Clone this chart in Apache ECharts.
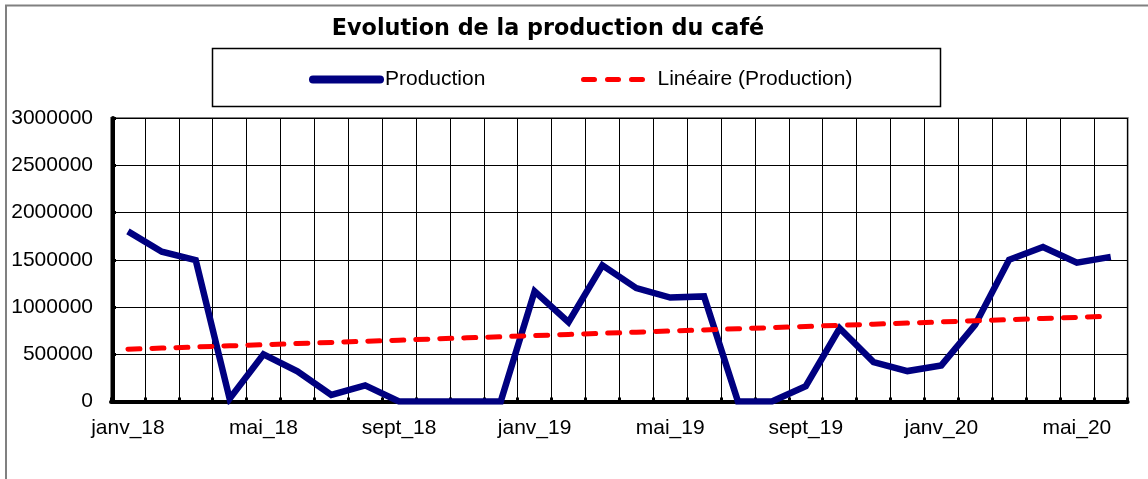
<!DOCTYPE html>
<html>
<head>
<meta charset="utf-8">
<title>Evolution de la production du café</title>
<script src="https://cdn.jsdelivr.net/npm/echarts@6/dist/echarts.min.js"></script>
<style>
  html, body { margin: 0; padding: 0; background: #fff; }
  #chart { width: 1148px; height: 479px; }
</style>
</head>
<body>
<div id="chart"></div>
<script>
// Mois de janvier 2018 à juin 2020
const months = [
  'janv_18', 'févr_18', 'mars_18', 'avr_18', 'mai_18', 'juin_18',
  'juil_18', 'août_18', 'sept_18', 'oct_18', 'nov_18', 'déc_18',
  'janv_19', 'févr_19', 'mars_19', 'avr_19', 'mai_19', 'juin_19',
  'juil_19', 'août_19', 'sept_19', 'oct_19', 'nov_19', 'déc_19',
  'janv_20', 'févr_20', 'mars_20', 'avr_20', 'mai_20', 'juin_20'
];

// Production mensuelle de café
const production = [
  1800000, 1585000, 1495000, 30000, 500000, 320000,
  70000, 170000, 0, 0, 0, 0,
  1165000, 840000, 1440000, 1200000, 1100000, 1112000,
  0, 0, 162000, 775000, 417000, 322000,
  382000, 812000, 1500000, 1635000, 1470000, 1530000
];

const yTicks = { min: 0, max: 3000000, step: 500000 };

const seriesNames = ['Production', 'Linéaire (Production)'];

// Tendance linéaire (moindres carrés) de la production
function linearTrend(values) {
  const n = values.length;
  let sx = 0, sy = 0, sxy = 0, sxx = 0;
  values.forEach((v, i) => { sx += i; sy += v; sxy += i * v; sxx += i * i; });
  const slope = (n * sxy - sx * sy) / (n * sxx - sx * sx);
  const intercept = (sy - slope * sx) / n;
  return values.map((_, i) => Math.round(intercept + slope * i));
}
const trend = linearTrend(production);

const FONT = '"Liberation Sans", Arial, sans-serif';

const chart = echarts.init(document.getElementById('chart'));
chart.setOption({
  backgroundColor: '#fff',
  animation: false,
  title: {
    text: 'Evolution de la production du café',
    left: 548,
    textAlign: 'center',
    top: 18,
    padding: 0,
    textStyle: { fontFamily: '"DejaVu Sans", sans-serif', fontWeight: 'bold', fontSize: 22.3, color: '#000' }
  },
  legend: [
    {
      data: [seriesNames[0]],
      left: 309, top: 69, padding: 0,
      itemWidth: 67, itemHeight: 14,
      lineStyle: { width: 8, cap: 'round' },
      itemStyle: { opacity: 0 },
      textStyle: { fontFamily: FONT, fontSize: 21, color: '#000', padding: [0, 0, 0, 0] }
    },
    {
      data: [seriesNames[1]],
      left: 581, top: 69, padding: 0,
      itemWidth: 61, itemHeight: 14,
      lineStyle: { width: 5, cap: 'round', type: [11, 13] },
      itemStyle: { opacity: 0 },
      textStyle: { fontFamily: FONT, fontSize: 21, color: '#000', padding: [0, 0, 0, 8] }
    }
  ],
  graphic: [
    {
      type: 'rect', silent: true, z: -10,
      shape: { x: 6, y: 5.5, width: 1400, height: 700 },
      style: { fill: null, stroke: '#808080', lineWidth: 2 }
    },
    {
      type: 'rect', silent: true, z: -5,
      shape: { x: 212.5, y: 48.5, width: 728, height: 58 },
      style: { fill: null, stroke: '#000', lineWidth: 1.5 }
    }
  ],
  grid: {
    left: 111, right: 20.3, top: 118, bottom: 77.5,
    containLabel: false,
    outerBoundsMode: 'none',
    show: true, borderColor: '#808080', borderWidth: 2, backgroundColor: 'transparent'
  },
  xAxis: {
    type: 'category',
    data: months,
    boundaryGap: true,
    axisLine: { show: true, lineStyle: { color: '#000', width: 4 } },
    axisTick: { show: true, inside: true, length: 4, interval: 0, lineStyle: { color: '#000', width: 3 } },
    axisLabel: { interval: 3, fontFamily: FONT, fontSize: 21, color: '#000', margin: 16 },
    splitLine: { show: true, interval: 0, lineStyle: { color: '#000', width: 1 } }
  },
  yAxis: {
    type: 'value',
    min: yTicks.min, max: yTicks.max, interval: yTicks.step,
    offset: -2,
    axisLine: { show: true, lineStyle: { color: '#000', width: 4 } },
    axisTick: { show: true, inside: true, length: 3, lineStyle: { color: '#000', width: 3 } },
    axisLabel: {
      fontFamily: FONT, fontSize: 21, color: '#000', margin: 20,
      formatter: (v) => String(v)
    },
    splitLine: { show: true, lineStyle: { color: '#000', width: 1 } }
  },
  series: [
    {
      name: seriesNames[0],
      type: 'line',
      data: production,
      symbol: 'none',
      color: '#000080',
      lineStyle: { color: '#000080', width: 6.5, join: 'miter' },
      z: 3
    },
    {
      name: seriesNames[1],
      type: 'line',
      data: trend,
      symbol: 'none',
      color: '#ff0000',
      lineStyle: { color: '#ff0000', width: 5, type: [12, 12], cap: 'round' },
      z: 4
    }
  ]
});
</script>
</body>
</html>
